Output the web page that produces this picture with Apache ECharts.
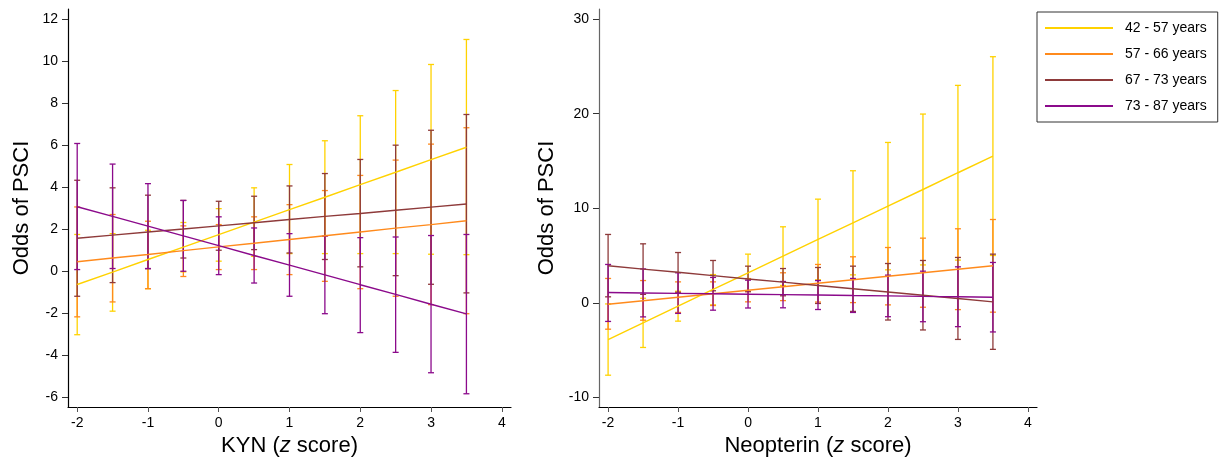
<!DOCTYPE html>
<html>
<head>
<meta charset="utf-8">
<script src="https://cdn.jsdelivr.net/npm/echarts@6/dist/echarts.min.js"></script>
<style>
  html, body { margin: 0; padding: 0; background: #fff; }
  #main { width: 1219px; height: 458px; }
</style>
</head>
<body>
<div id="main"></div>
<script>
// z score positions
const xs = [-2, -1.5, -1, -0.5, 0, 0.5, 1, 1.5, 2, 2.5, 3, 3.5];
const ageGroups = ['42 - 57 years', '57 - 66 years', '67 - 73 years', '73 - 87 years'];
const colors = ['#FFD200', '#FF8A1C', '#8E3A3A', '#8B0A8B'];

// KYN panel: fitted odds and CI
const kynFit42 = [-0.63, -0.04, 0.56, 1.15, 1.74, 2.34, 2.93, 3.52, 4.12, 4.71, 5.31, 5.9];
const kynLo42 = [-3.02, -1.9, -0.83, -0.03, 0.48, 0.71, 0.84, 0.84, 0.84, 0.84, 0.81, 0.79];
const kynHi42 = [1.75, 1.79, 1.95, 2.32, 2.98, 3.97, 5.08, 6.21, 7.4, 8.6, 9.84, 11.03];
const kynFit57 = [0.45, 0.63, 0.8, 0.98, 1.16, 1.33, 1.51, 1.69, 1.87, 2.05, 2.22, 2.4];
const kynLo57 = [-2.17, -1.46, -0.83, -0.25, 0.08, 0.08, -0.16, -0.48, -0.83, -1.19, -1.59, -2.02];
const kynHi57 = [3.06, 2.7, 2.38, 2.16, 2.22, 2.59, 3.17, 3.84, 4.56, 5.29, 6.05, 6.83];
const kynFit67 = [1.57, 1.72, 1.87, 2.01, 2.16, 2.31, 2.46, 2.61, 2.75, 2.9, 3.05, 3.2];
const kynLo67 = [-1.19, -0.54, 0.12, 0.63, 1.0, 1.03, 0.87, 0.56, 0.21, -0.21, -0.62, -1.03];
const kynHi67 = [4.33, 3.97, 3.62, 3.37, 3.33, 3.57, 4.06, 4.65, 5.32, 6.0, 6.71, 7.46];
const kynFit73 = [3.07, 2.61, 2.15, 1.68, 1.22, 0.75, 0.29, -0.17, -0.64, -1.1, -1.57, -2.03];
const kynLo73 = [0.08, 0.13, 0.13, 0.0, -0.16, -0.56, -1.19, -2.02, -2.92, -3.86, -4.83, -5.83];
const kynHi73 = [6.08, 5.1, 4.17, 3.37, 2.59, 2.06, 1.79, 1.67, 1.6, 1.63, 1.7, 1.75];

// Neopterin panel
const neoFit42 = [-3.86, -2.1, -0.34, 1.43, 3.19, 4.95, 6.71, 8.47, 10.23, 11.99, 13.76, 15.52];
const neoLo42 = [-7.63, -4.7, -1.92, -0.2, 1.22, 1.85, 2.45, 2.97, 3.5, 4.02, 4.53, 5.02];
const neoHi42 = [-0.1, 0.5, 1.24, 3.0, 5.16, 8.05, 10.97, 13.97, 16.96, 19.96, 22.99, 26.02];
const neoFit57 = [-0.13, 0.24, 0.61, 0.98, 1.35, 1.72, 2.08, 2.45, 2.82, 3.19, 3.56, 3.93];
const neoLo57 = [-2.77, -1.82, -1.0, -0.27, 0.12, 0.25, 0.1, 0.04, -0.2, -0.45, -0.7, -0.97];
const neoHi57 = [2.59, 2.37, 2.23, 2.23, 2.58, 3.19, 4.07, 4.88, 5.86, 6.85, 7.84, 8.82];
const neoFit67 = [3.93, 3.58, 3.24, 2.89, 2.54, 2.2, 1.85, 1.5, 1.16, 0.81, 0.47, 0.12];
const neoLo67 = [0.65, 0.91, 1.13, 1.29, 1.19, 0.76, -0.05, -0.89, -1.8, -2.85, -3.85, -4.9];
const neoHi67 = [7.24, 6.25, 5.33, 4.49, 3.89, 3.64, 3.75, 3.89, 4.17, 4.49, 4.81, 5.16];
const neoFit73 = [1.11, 1.06, 1.02, 0.97, 0.93, 0.88, 0.84, 0.79, 0.75, 0.7, 0.66, 0.61];
const neoLo73 = [-1.95, -1.47, -1.1, -0.76, -0.53, -0.51, -0.69, -1.0, -1.45, -1.98, -2.5, -3.06];
const neoHi73 = [4.07, 3.6, 3.19, 2.7, 2.41, 2.27, 2.37, 2.59, 2.94, 3.36, 3.82, 4.28];

const xTicks = [-2, -1, 0, 1, 2, 3, 4];
const kynYTicks = [-6, -4, -2, 0, 2, 4, 6, 8, 10, 12];
const neoYTicks = [-10, 0, 10, 20, 30];

const panels = [
  { fit: [kynFit42, kynFit57, kynFit67, kynFit73], lo: [kynLo42, kynLo57, kynLo67, kynLo73], hi: [kynHi42, kynHi57, kynHi67, kynHi73] },
  { fit: [neoFit42, neoFit57, neoFit67, neoFit73], lo: [neoLo42, neoLo57, neoLo67, neoLo73], hi: [neoHi42, neoHi57, neoHi67, neoHi73] }
];

const font = '"Liberation Sans", Arial, Helvetica, sans-serif';

function errorBars(api) {
  const x = api.value(0);
  const lo = api.coord([x, api.value(1)]);
  const hi = api.coord([x, api.value(2)]);
  const st = { stroke: api.visual('color'), lineWidth: 1.3 };
  const cw = 3;
  return {
    type: 'group',
    children: [
      { type: 'line', shape: { x1: lo[0], y1: lo[1], x2: hi[0], y2: hi[1] }, style: st },
      { type: 'line', shape: { x1: lo[0] - cw, y1: lo[1], x2: lo[0] + cw, y2: lo[1] }, style: st },
      { type: 'line', shape: { x1: hi[0] - cw, y1: hi[1], x2: hi[0] + cw, y2: hi[1] }, style: st }
    ]
  };
}

const series = [];
panels.forEach((p, pi) => {
  for (let g = 0; g < 4; g++) {
    series.push({
      type: 'custom',
      name: 'ci' + pi + g,
      xAxisIndex: pi, yAxisIndex: pi,
      itemStyle: { color: colors[g] },
      renderItem: (params, api) => errorBars(api),
      data: xs.map((x, i) => [x, p.lo[g][i], p.hi[g][i]]),
      z: 2
    });
  }
  for (let g = 0; g < 4; g++) {
    series.push({
      type: 'line',
      name: ageGroups[g],
      xAxisIndex: pi, yAxisIndex: pi,
      symbol: 'none',
      color: colors[g],
      lineStyle: { color: colors[g], width: 1.4 },
      data: xs.map((x, i) => [x, p.fit[g][i]]),
      z: 3
    });
  }
});

function xAxis(gi, label) {
  return {
    type: 'value', gridIndex: gi, min: -2.13, max: 4.13,
    name: label, nameLocation: 'middle', nameGap: 27,
    nameTextStyle: { fontSize: 22, color: '#000', fontFamily: font, rich: { i: { fontSize: 22, fontStyle: 'italic', fontFamily: font } } },
    axisLine: { onZero: false, lineStyle: { color: '#000', width: 1.2 } },
    axisTick: { show: true, length: 5, customValues: xTicks, lineStyle: { color: '#555' } },
    axisLabel: { customValues: xTicks, fontSize: 14, color: '#000', fontFamily: font, margin: 9 },
    splitLine: { show: false }
  };
}

function yAxis(gi, min, max, ticks, gap, lineColor) {
  return {
    type: 'value', gridIndex: gi, min: min, max: max,
    name: 'Odds of PSCI', nameLocation: 'middle', nameGap: gap,
    nameTextStyle: { fontSize: 22, color: '#000', fontFamily: font },
    axisLine: { show: true, onZero: false, lineStyle: { color: lineColor, width: 1.2 } },
    axisTick: { show: true, length: 6, customValues: ticks, lineStyle: { color: '#333' } },
    axisLabel: { customValues: ticks, fontSize: 14, color: '#000', fontFamily: font, margin: 10 },
    splitLine: { show: false }
  };
}

const chart = echarts.init(document.getElementById('main'));
chart.setOption({
  animation: false,
  backgroundColor: '#fff',
  grid: [
    { left: 68, right: 708, top: 9, bottom: 51, outerBoundsMode: 'none' },
    { left: 599, right: 182, top: 9, bottom: 51, outerBoundsMode: 'none' }
  ],
  xAxis: [xAxis(0, 'KYN ({i|z} score)'), xAxis(1, 'Neopterin ({i|z} score)')],
  yAxis: [yAxis(0, -6.46, 12.48, kynYTicks, 35, '#000'), yAxis(1, -10.99, 31.06, neoYTicks, 41, '#666')],
  legend: {
    data: ageGroups,
    orient: 'vertical',
    left: 1037, top: 12,
    padding: [9, 11, 9, 8],
    borderColor: '#333', borderWidth: 1,
    icon: 'rect', itemWidth: 68, itemHeight: 2,
    itemGap: 12,
    selectedMode: false,
    textStyle: { fontSize: 14, lineHeight: 14, color: '#000', fontFamily: font, padding: [0, 0, 0, 7] }
  },
  series: series
});
</script>
</body>
</html>
